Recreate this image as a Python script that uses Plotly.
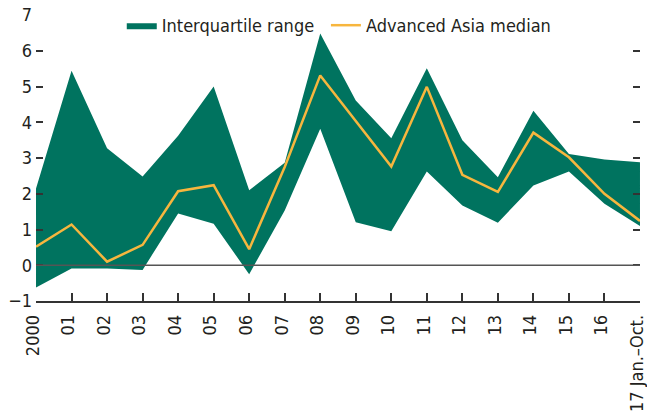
import plotly.graph_objects as go

years = ["2000", "01", "02", "03", "04", "05", "06", "07", "08", "09",
         "10", "11", "12", "13", "14", "15", "16", "17 Jan.–Oct."]
upper = [2.15, 5.44, 3.27, 2.48, 3.62, 5.00, 2.10, 2.87, 6.48, 4.61,
         3.55, 5.51, 3.50, 2.46, 4.32, 3.11, 2.96, 2.88]
lower = [-0.62, -0.09, -0.09, -0.13, 1.45, 1.16, -0.25, 1.53, 3.82, 1.20,
         0.95, 2.62, 1.67, 1.19, 2.23, 2.62, 1.72, 1.10]
median = [0.52, 1.14, 0.10, 0.57, 2.07, 2.24, 0.45, 2.75, 5.31, 4.03,
          2.76, 4.99, 2.53, 2.05, 3.71, 3.02, 2.00, 1.24]
yticks = [-1, 0, 1, 2, 3, 4, 5, 6, 7]

xs = list(range(len(years)))
FILL = "#00735F"
LINE = "#F7B63E"
TXT = "#231F20"
FONT = "DejaVu Sans Condensed, Liberation Sans, sans-serif"
FS = 18

fig = go.Figure()
fig.add_trace(go.Scatter(x=xs, y=lower, mode="lines", line=dict(width=0, color=FILL),
                         showlegend=False, hoverinfo="skip"))
fig.add_trace(go.Scatter(x=xs, y=upper, mode="lines", line=dict(width=0, color=FILL),
                         fill="tonexty", fillcolor=FILL, name="Interquartile range",
                         legend="legend"))
fig.add_trace(go.Scatter(x=xs, y=median, mode="lines", line=dict(width=2.5, color=LINE),
                         name="Advanced Asia median", legend="legend2"))
# right-side mirrored ticks
fig.add_trace(go.Scatter(x=xs, y=median, mode="lines", line=dict(width=0), yaxis="y2",
                         showlegend=False, hoverinfo="skip", opacity=0))

fig.add_shape(type="line", xref="x", yref="y", x0=0, x1=17, y0=0, y1=0,
              line=dict(color="#555555", width=1.5), layer="above")

leg_common = dict(orientation="h", y=1.028, xanchor="left", yanchor="top",
                  bgcolor="rgba(0,0,0,0)", font=dict(size=FS), itemwidth=30)

fig.update_layout(
    width=647, height=416,
    margin=dict(l=36, r=7, t=13, b=115),
    paper_bgcolor="white", plot_bgcolor="white",
    font=dict(family=FONT, size=FS, color=TXT),
    showlegend=True,
    legend=dict(x=0.142, **leg_common),
    legend2=dict(x=0.480, **leg_common),
    xaxis=dict(range=[-0.0005, 17.0005], tickvals=xs, ticktext=years, tickangle=-90,
               showgrid=False, zeroline=False, showline=True, linecolor="#333333",
               linewidth=1.5, ticks="inside", ticklen=8, tickcolor="#333333",
               tickwidth=1.5, tickfont=dict(size=FS, color=TXT), automargin=False,
               ticklabeloverflow="allow", ticklabelstandoff=5, ticklabelshift=-3),
    yaxis=dict(range=[-1, 7], tickvals=yticks, showgrid=False, zeroline=False,
               showline=False, ticks="inside", ticklen=7, tickcolor="#333333",
               tickwidth=1.5, tickfont=dict(size=FS, color=TXT), automargin=False,
               ticklabelstandoff=3),
    yaxis2=dict(range=[-1, 7], tickvals=yticks, overlaying="y", side="right",
                showgrid=False, zeroline=False, showline=False, ticks="inside",
                ticklen=7, tickcolor="#333333", tickwidth=1.5, showticklabels=False,
                automargin=False),
)

fig.write_html("out.html", config={"displayModeBar": False},
               post_script="document.body.style.margin='0';")
